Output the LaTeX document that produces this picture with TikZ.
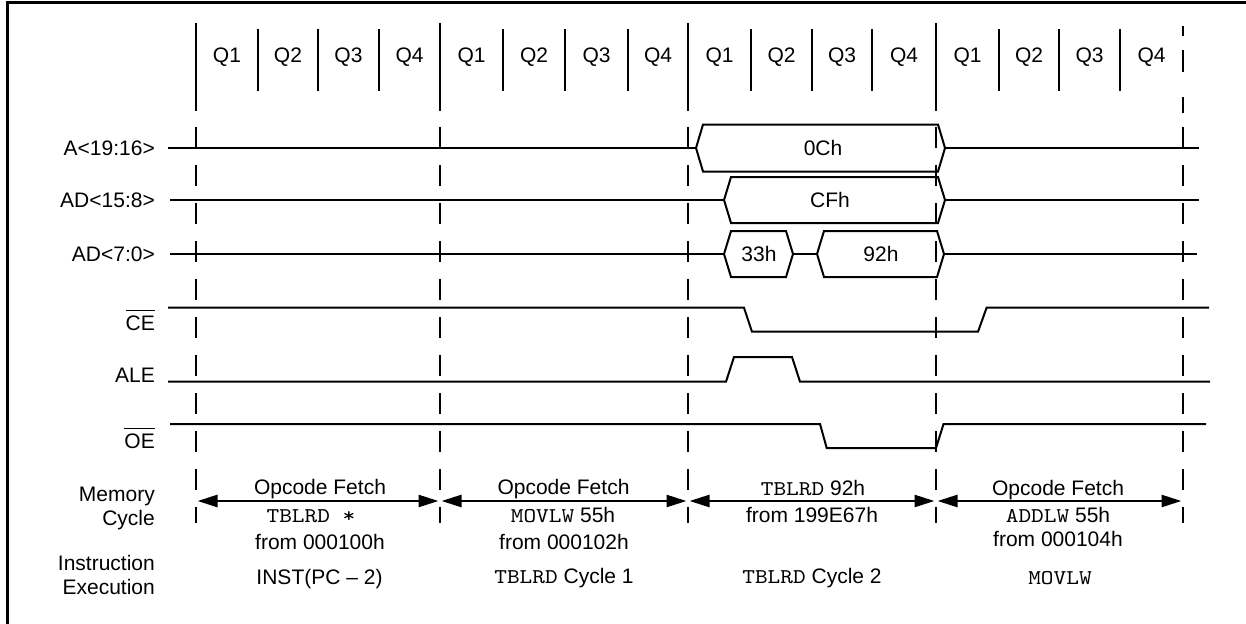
\documentclass[tikz,border=0pt]{standalone}
\usepackage{fontspec}
\setmainfont{Liberation Sans}
\setmonofont{lmmono10-regular}[Extension=.otf, FakeStretch=1.15]
\usetikzlibrary{arrows.meta}
\newcommand\myovl[1]{\vbox{\hrule height 1.6pt\kern 4pt\hbox{#1}}}
\begin{document}
\begin{tikzpicture}[x=1pt,y=-1pt,
  font=\fontsize{21}{24}\selectfont,
  sig/.style={line width=2pt, line join=miter},
  bnd/.style={line width=2.6pt},
  qln/.style={line width=2.6pt},
  dsh/.style={line width=2.6pt, dash pattern=on 21pt off 17pt},
  memarr/.style={line width=2.5pt, {Triangle[length=20pt,width=12pt]}-{Triangle[length=20pt,width=12pt]}, shorten <=1.5pt, shorten >=1.5pt},
  lbl/.style={anchor=base east, inner sep=0pt},
  txt/.style={anchor=base, inner sep=0pt},
  val/.style={inner sep=0pt}]
\useasboundingbox (0,0) rectangle (1246,623);
% frame
\draw[line width=3pt] (7.5,640) -- (7.5,3) -- (1260,3);
% header boundaries
\foreach \x in {196,440,688,936} \draw[bnd] (\x,23) -- (\x,111);
\foreach \x in {258,318,379,503,565,628,751,812,872,999,1059,1120} \draw[qln] (\x,29) -- (\x,91);
\draw[bnd] (1183,26) -- (1183,36) (1183,50) -- (1183,72) (1183,97) -- (1183,113);
\foreach \x in {196,440,688,936,1183} \draw[dsh] (\x,127) -- (\x,523);
% Q labels
\foreach \x/\t [count=\i] in {227/Q1,288/Q2,348.5/Q3,409.5/Q4,471.5/Q1,534/Q2,596.5/Q3,658/Q4,719.5/Q1,781.5/Q2,842/Q3,904/Q4,967.5/Q1,1029/Q2,1089.5/Q3,1151.5/Q4}
  \node[txt] (q\i) at (\x,62.5) {\t};
% signal labels
\node[lbl] (la) at (155,155) {A<19:16>};
\node[lbl] (lad1) at (155,207) {AD<15:8>};
\node[lbl] (lad0) at (155,261) {AD<7:0>};
\node[lbl] (lce) at (155,330) {\myovl{CE}};
\node[lbl] (lale) at (155,382) {ALE};
\node[lbl] (loe) at (155,448) {\myovl{OE}};
% A<19:16>
\draw[sig] (168,148) -- (696,148);
\draw[sig] (696,148) -- (703,124.5) -- (938,124.5) -- (945,148) -- (938,171.5) -- (703,171.5) -- cycle;
\draw[sig] (945,148) -- (1199,148);
\node[val] (v0c) at (823,148) {0Ch};
% AD<15:8>
\draw[sig] (170,200) -- (724,200);
\draw[sig] (724,200) -- (731,177) -- (938,177) -- (945,200) -- (938,223) -- (731,223) -- cycle;
\draw[sig] (945,200) -- (1199,200);
\node[val] (vcf) at (830,200) {CFh};
% AD<7:0>
\draw[sig] (170,254) -- (724,254);
\draw[sig] (724,254) -- (731,231) -- (786,231) -- (793,254) -- (786,277) -- (731,277) -- cycle;
\draw[sig] (793,254) -- (817,254);
\draw[sig] (817,254) -- (824,231) -- (937,231) -- (944,254) -- (937,277) -- (824,277) -- cycle;
\draw[sig] (944,254) -- (1197,254);
\node[val] (v33) at (759,254) {33h};
\node[val] (v92) at (881,254) {92h};
% CE
\draw[sig] (168,307.7) -- (744,307.7) -- (752,331.7) -- (978,331.7) -- (986.6,307.7) -- (1209,307.7);
% ALE
\draw[sig] (168,381.7) -- (726,381.7) -- (734,357) -- (792,357) -- (800,381.7) -- (1210,381.7);
% OE
\draw[sig] (170,424) -- (820,424) -- (826.7,448) -- (936,448) -- (943.5,424) -- (1206,424);
% bottom labels
\node[lbl] (mem1) at (155,501.5) {Memory};
\node[lbl] (mem2) at (155,525) {Cycle};
\node[lbl] (ins1) at (155,570.7) {Instruction};
\node[lbl] (ins2) at (155,594) {Execution};
% memory cycle arrows
\coordinate (m0) at (196,501);
\coordinate (m1) at (440,501);
\coordinate (m2) at (688,501);
\coordinate (m3) at (936,501);
\coordinate (m4) at (1183,501);
\draw[memarr] (m0) -- (m1);
\draw[memarr] (m1) -- (m2);
\draw[memarr] (m2) -- (m3);
\draw[memarr] (m3) -- (m4);
% cycle texts
\node[txt] (c1a) at (320,494.5) {Opcode Fetch};
\node[txt] (c1b) at (311,522.7) {\texttt{TBLRD *}};
\node[txt] (c1c) at (320,549) {from 000100h};
\node[txt] (c1d) at (319.5,584) {INST(PC – 2)};
\node[txt] (c2a) at (563.5,494.5) {Opcode Fetch};
\node[txt] (c2b) at (563,522.7) {\texttt{MOVLW} 55h};
\node[txt] (c2c) at (564,549) {from 000102h};
\node[txt] (c2d) at (564,583) {\texttt{TBLRD} Cycle 1};
\node[txt] (c3a) at (813,495) {\texttt{TBLRD} 92h};
\node[txt] (c3b) at (812,522.7) {from 199E67h};
\node[txt] (c3d) at (812,583) {\texttt{TBLRD} Cycle 2};
\node[txt] (c4a) at (1058,495) {Opcode Fetch};
\node[txt] (c4b) at (1058,522.7) {\texttt{ADDLW} 55h};
\node[txt] (c4c) at (1058,546) {from 000104h};
\node[txt] (c4d) at (1060,584) {\texttt{MOVLW}};
\end{tikzpicture}
\end{document}
